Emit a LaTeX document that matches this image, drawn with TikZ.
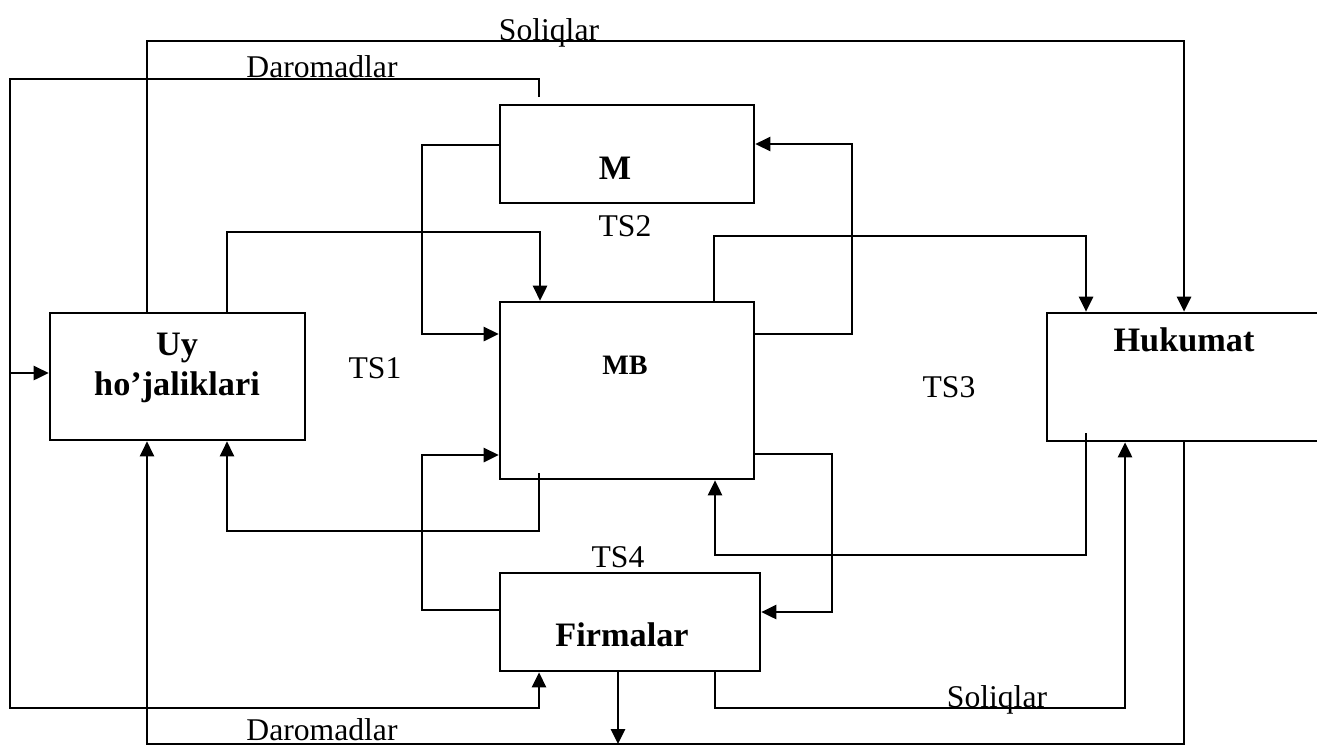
\documentclass[tikz,border=0pt]{standalone}
\usepackage{fontspec}
\setmainfont{Liberation Serif}
\usetikzlibrary{arrows.meta}
\tikzset{
  blok/.style={draw,line width=1.5pt,minimum width=5.08cm,minimum height=1.96cm,inner sep=0pt},
  oqim/.style={line width=1.5pt,-{Triangle[length=0.3cm,width=0.28cm]}},
  yozuv/.style={font=\fontsize{18}{20}\selectfont},
  nom/.style={font=\fontsize{19.5}{22.7}\selectfont\bfseries,align=center},
}
\begin{document}
\begin{tikzpicture}[x=0.02cm,y=-0.02cm]
    \useasboundingbox (0,0) rectangle (1317,744);
    % bloklar
    \node[blok,minimum width=5.1cm,minimum height=2.54cm] (uy) at (177.5,376.5) {};
    \node[blok] (m) at (627,154) {};
    \node[blok,minimum height=3.54cm] (mb) at (627,390.5) {};
    \node[blok,minimum width=5.2cm] (firm) at (630,622) {};
    \node[blok,minimum width=5.84cm,minimum height=2.56cm] (huk) at (1193,377) {};
    \node[nom] (uyt) at (177,368) {Uy\\ho’jaliklari};
    \node[nom] (mt) at (615,168) {M};
    \node[nom,font=\fontsize{16}{18}\selectfont\bfseries] (mbt) at (625,365) {MB};
    \node[nom] (firmt) at (622,635) {Firmalar};
    \node[nom] (hukt) at (1184,340) {Hukumat};
    \node[yozuv] (ts1) at (375,368) {TS1};
    \node[yozuv] (ts2) at (625,226) {TS2};
    \node[yozuv] (ts3) at (949,387) {TS3};
    \node[yozuv] (ts4) at (618,557) {TS4};
    % erkin uchlar
    \coordinate (dbosh) at (539,97);
    \coordinate (tut) at (10,373);
    \coordinate (mbosh) at (539,473);
    \coordinate (hbosh) at (1086,433);
    \coordinate (pastki) at (618,744);
    % oqimlar
    \draw[oqim] (uy.north -| 147,0) |- (1184,41) -- (huk.north -| 1184,0);
    \draw[oqim] (dbosh) |- (10,79) |- (539,708) -- (firm.south -| 539,0);
    \draw[oqim] (tut) -- (uy.west |- tut);
    \draw[oqim] (uy.north -| 227,0) |- (540,232) -- (mb.north -| 540,0);
    \draw[oqim] (m.west |- 0,145) -| (422,334) -- (mb.west |- 0,334);
    \draw[oqim] (mb.east |- 0,334) -| (852,144) -- (m.east |- 0,144);
    \draw[oqim] (mb.north -| 714,0) |- (1086,236) -- (huk.north -| 1086,0);
    \draw[oqim] (firm.west |- 0,610) -| (422,455) -- (mb.west |- 0,455);
    \draw[oqim] (mb.east |- 0,454) -| (832,612) -- (firm.east |- 0,612);
    \draw[oqim] (mbosh) |- (227,531) -- (uy.south -| 227,0);
    \draw[oqim] (hbosh) |- (715,555) -- (mb.south -| 715,0);
    \draw[oqim] (huk.south -| 1184,0) |- (147,744) -- (uy.south -| 147,0);
    \draw[oqim] (firm.south -| 618,0) -- (pastki);
    \draw[oqim] (firm.south -| 715,0) |- (1125,708) -- (huk.south -| 1125,0);
    \node[yozuv,anchor=base] (sol1) at (549,40) {Soliqlar};
    \node[yozuv,anchor=base] (dar1) at (322,77) {Daromadlar};
    \node[yozuv,anchor=base,inner sep=1pt] (dar2) at (322,740) {Daromadlar};
    \node[yozuv,anchor=base] (sol2) at (997,707) {Soliqlar};
\end{tikzpicture}
\end{document}
